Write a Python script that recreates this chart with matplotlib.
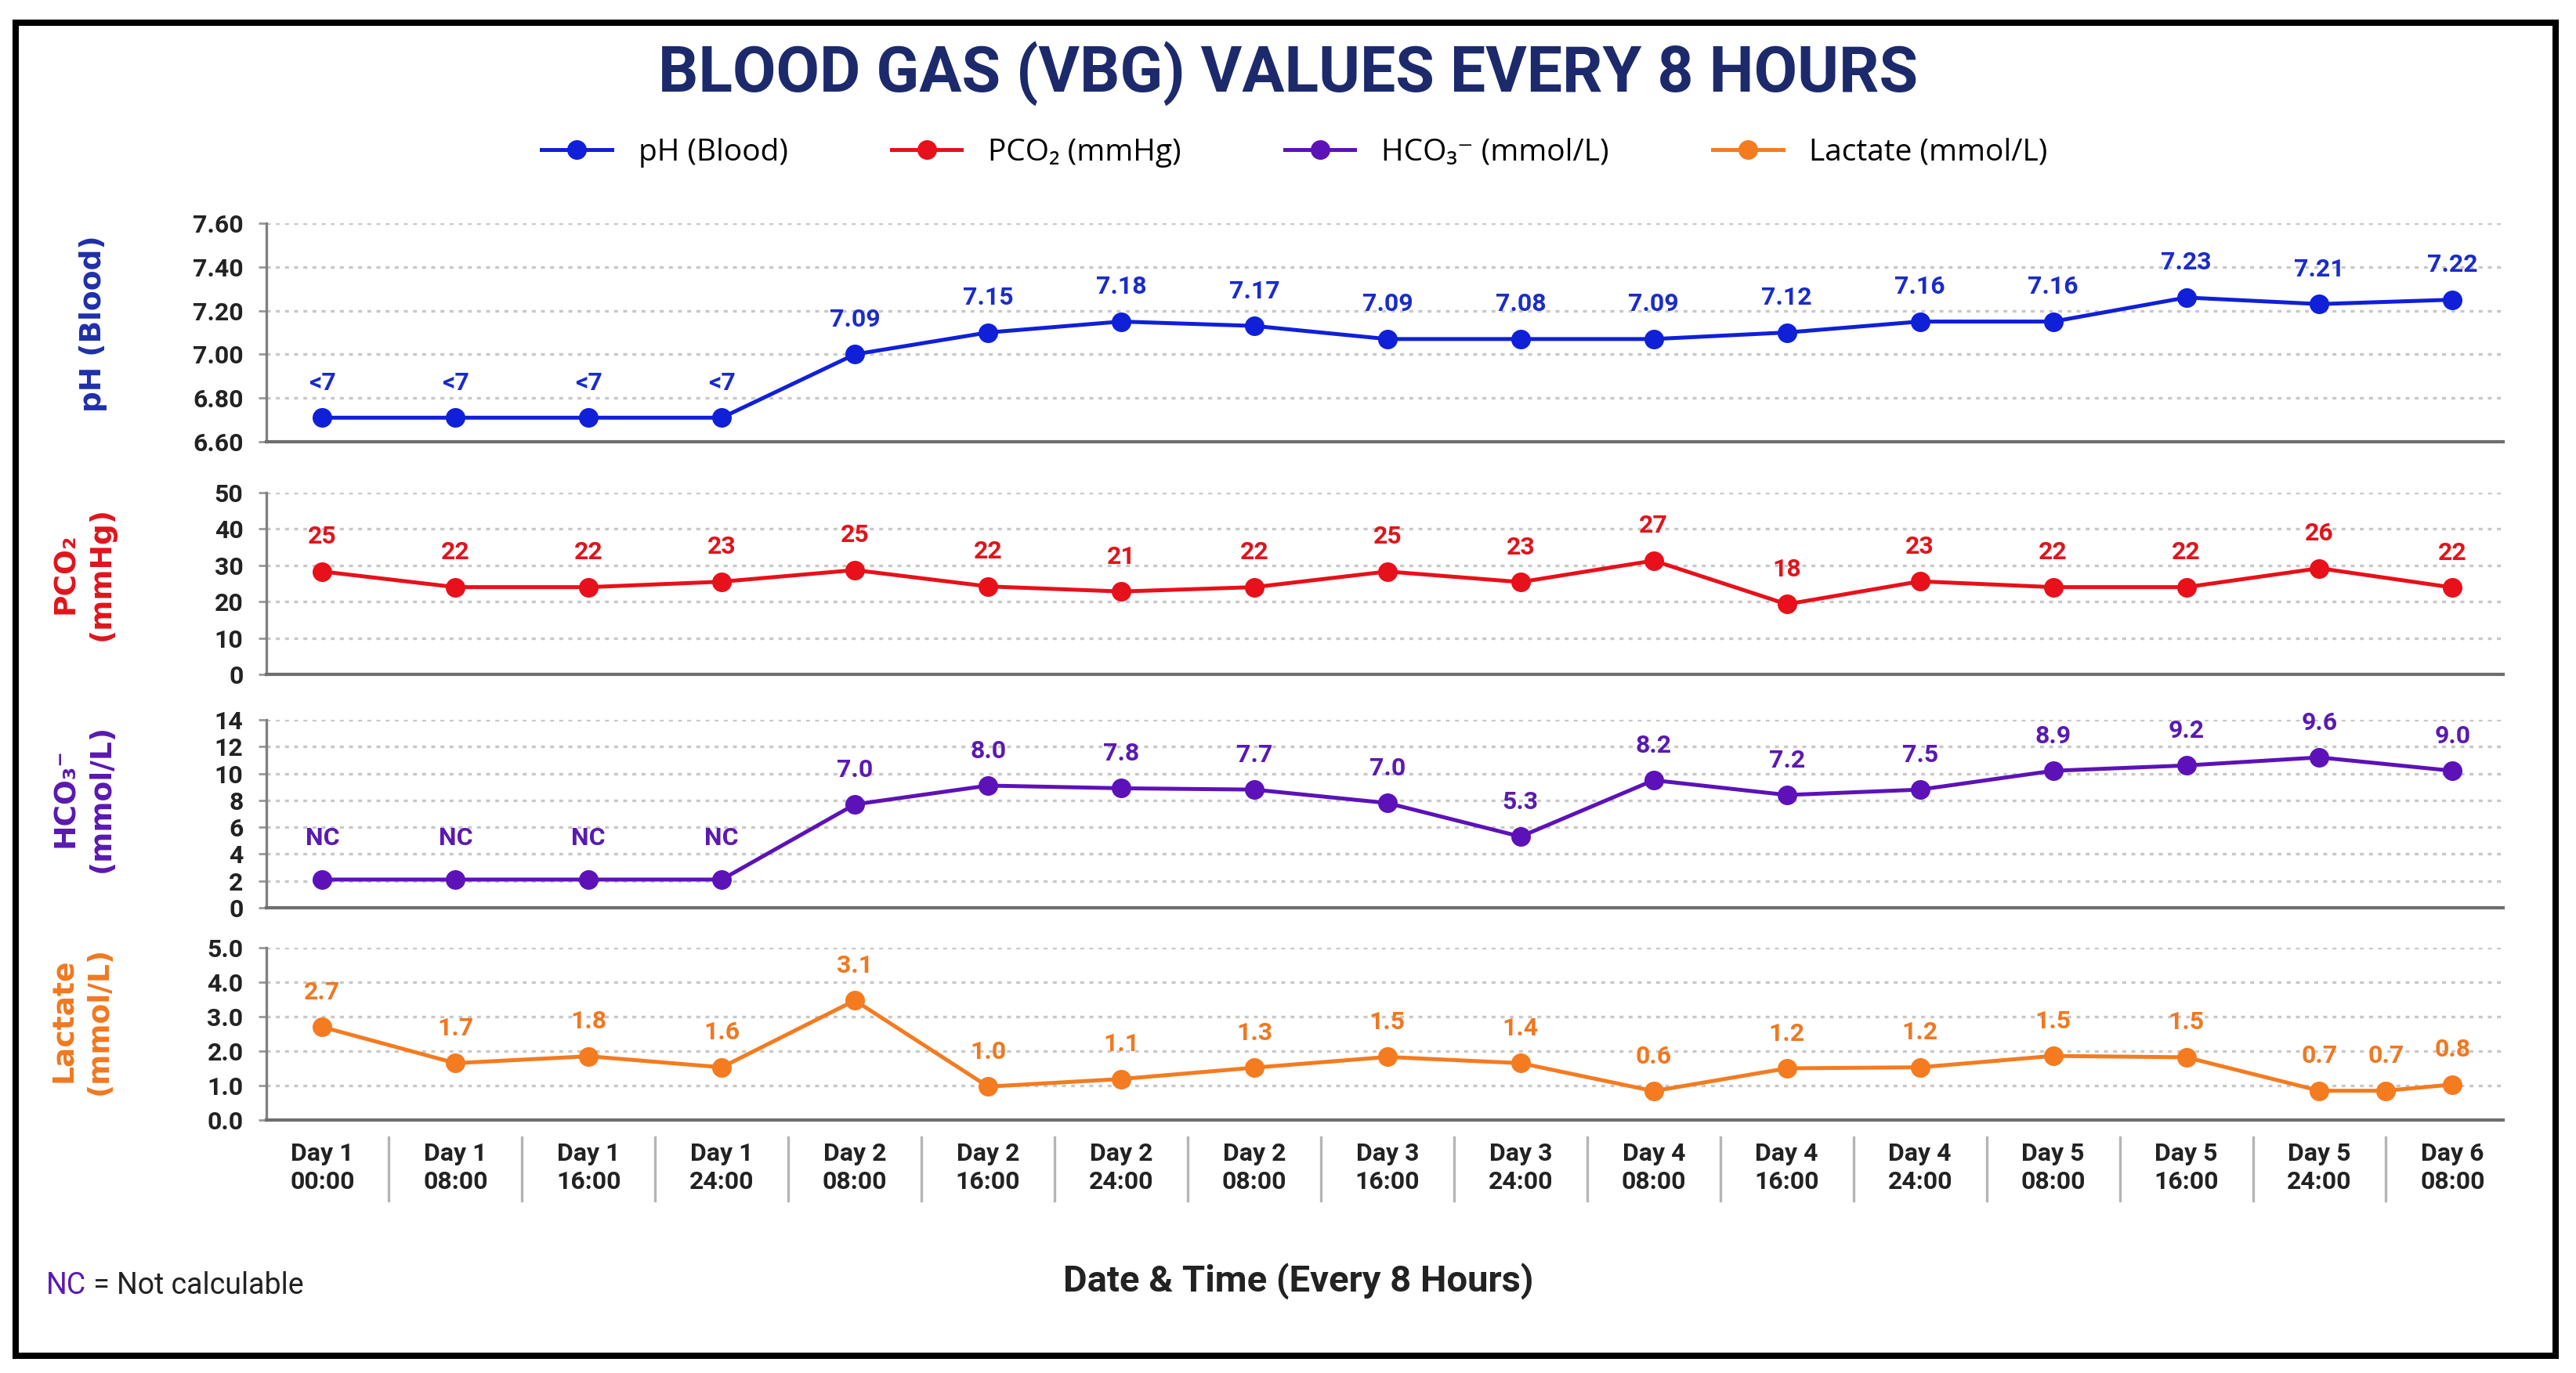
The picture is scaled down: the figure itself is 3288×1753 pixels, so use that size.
import matplotlib
matplotlib.use("Agg")
import matplotlib.pyplot as plt
import matplotlib.patches as patches
import matplotlib.transforms as mtransforms
from matplotlib.ticker import FormatStrFormatter

plt.rcParams["font.family"] = ["Roboto", "DejaVu Sans"]

# ── データ──
x_labels = ["Day 1\n00:00", "Day 1\n08:00", "Day 1\n16:00", "Day 1\n24:00",
            "Day 2\n08:00", "Day 2\n16:00", "Day 2\n24:00", "Day 2\n08:00",
            "Day 3\n16:00", "Day 3\n24:00", "Day 4\n08:00", "Day 4\n16:00",
            "Day 4\n24:00", "Day 5\n08:00", "Day 5\n16:00", "Day 5\n24:00",
            "Day 6\n08:00"]
x_main = list(range(17))

ph_vals = [6.71, 6.71, 6.71, 6.71, 7.00, 7.10, 7.15, 7.13, 7.07, 7.07, 7.07,
           7.10, 7.15, 7.15, 7.26, 7.23, 7.25]
ph_text = ["<7", "<7", "<7", "<7", "7.09", "7.15", "7.18", "7.17", "7.09",
           "7.08", "7.09", "7.12", "7.16", "7.16", "7.23", "7.21", "7.22"]

pco2_vals = [28.3, 24.0, 24.0, 25.5, 28.7, 24.2, 22.8, 24.0, 28.3, 25.4, 31.3,
             19.3, 25.6, 24.0, 24.0, 29.2, 23.9]
pco2_text = ["25", "22", "22", "23", "25", "22", "21", "22", "25", "23", "27",
             "18", "23", "22", "22", "26", "22"]

hco3_vals = [2.1, 2.1, 2.1, 2.1, 7.7, 9.1, 8.9, 8.8, 7.8, 5.3, 9.5, 8.4, 8.8,
             10.2, 10.6, 11.2, 10.2]
hco3_text = ["NC", "NC", "NC", "NC", "7.0", "8.0", "7.8", "7.7", "7.0", "5.3",
             "8.2", "7.2", "7.5", "8.9", "9.2", "9.6", "9.0"]

lactate_x = [0, 1, 2, 3, 4, 5, 6, 7, 8, 9, 10, 11, 12, 13, 14, 15, 15.5, 16]
lactate_vals = [2.70, 1.65, 1.85, 1.53, 3.47, 0.97, 1.19, 1.52, 1.83, 1.65,
                0.84, 1.50, 1.53, 1.86, 1.82, 0.85, 0.85, 1.03]
lactate_text = ["2.7", "1.7", "1.8", "1.6", "3.1", "1.0", "1.1", "1.3", "1.5",
                "1.4", "0.6", "1.2", "1.2", "1.5", "1.5", "0.7", "0.7", "0.8"]

# ── 図の寸法 ──
W, H, DPI = 3288, 1753, 200
fig = plt.figure(figsize=(W / DPI, H / DPI), dpi=DPI, facecolor="white")

LEFT, RIGHT = 340, 3195


def add_panel(top, bottom):
    return fig.add_axes([LEFT / W, 1 - bottom / H, (RIGHT - LEFT) / W, (bottom - top) / H])


panels = [
    # (top, bottom, x, y, texts, line color, text color, ylim, ticks, fmt, legend label)
    (285, 564, x_main, ph_vals, ph_text, "#1020d8", "#1a2cc8", (6.6, 7.6),
     [6.6, 6.8, 7.0, 7.2, 7.4, 7.6], "%.2f", "pH (Blood)"),
    (629, 861, x_main, pco2_vals, pco2_text, "#e8101a", "#e0141c", (0, 50),
     [0, 10, 20, 30, 40, 50], "%d", "PCO₂ (mmHg)"),
    (919, 1159, x_main, hco3_vals, hco3_text, "#5c12b8", "#5a1ab0", (0, 14),
     [0, 2, 4, 6, 8, 10, 12, 14], "%d", "HCO₃⁻ (mmol/L)"),
    (1210, 1430, lactate_x, lactate_vals, lactate_text, "#f47b20", "#f07820", (0, 5),
     [0, 1, 2, 3, 4, 5], "%.1f", "Lactate (mmol/L)"),
]

handles = []
axes = []
for top, bottom, xs, ys, texts, lc, tc, ylim, ticks, fmt, lab in panels:
    ax = add_panel(top, bottom)
    axes.append(ax)
    line, = ax.plot(xs, ys, color=lc, lw=1.8, marker="o", ms=8, label=lab, zorder=3)
    handles.append(line)
    for xi, yi, t in zip(xs, ys, texts):
        off = 19 if t == "NC" else 16
        ax.annotate(t, (xi, yi), xytext=(0, off), textcoords="offset points",
                    ha="center", va="center", fontsize=11.5, fontweight="bold", color=tc)

    ax.set_xlim(-0.42, 16.38)
    ax.set_ylim(*ylim)
    ax.set_yticks(ticks)
    ax.yaxis.set_major_formatter(FormatStrFormatter(fmt))
    ax.grid(axis="y", color="#c8c8c8", linestyle=(0, (1.5, 2)), lw=1.2)
    ax.set_axisbelow(True)
    for s in ["top", "right"]:
        ax.spines[s].set_visible(False)
    ax.spines["left"].set_color("#808080")
    ax.spines["left"].set_linewidth(1.2)
    ax.spines["bottom"].set_color("#6e6e6e")
    ax.spines["bottom"].set_linewidth(1.5)
    ax.tick_params(axis="y", length=3.6, width=1.0, color="#999999", pad=7,
                   labelsize=11.5, labelcolor="#222222")
    for t in ax.get_yticklabels():
        t.set_fontweight("bold")
    ax.set_xticks(x_main)
    ax.tick_params(axis="x", length=0, labelbottom=False)

# 一番下のパネルに日時ラベルと区切り線
ax_b = axes[-1]
ax_b.tick_params(axis="x", labelbottom=True, pad=10)
ax_b.set_xticklabels(x_labels, fontsize=11.5, fontweight="bold", color="#222222",
                     linespacing=1.25)
trans = mtransforms.blended_transform_factory(ax_b.transData, ax_b.transAxes)
for i in range(16):
    ax_b.plot([i + 0.5, i + 0.5], [-0.10, -0.47], transform=trans, color="#b5b5b5",
              lw=1.2, clip_on=False)

# ── 縦軸ラベル ──
ylabels = [
    ("pH (Blood)", 119, 413, "#1f2fa8"),
    ("PCO₂\n(mmHg)", 107, 732, "#e0141c"),
    ("HCO₃⁻\n(mmol/L)", 107, 1019, "#5a18b0"),
    ("Lactate\n(mmol/L)", 104, 1303, "#f07820"),
]
for txt, px, py, col in ylabels:
    fig.text(px / W, 1 - py / H, txt, rotation=90, ha="center", va="center",
             fontsize=13.5, fontweight="bold", color=col, family=["DejaVu Sans"],
             linespacing=1.35, multialignment="center")

# ── タイトル・凡例・注記 ──
fig.text(0.5, 1 - 94 / H, "BLOOD GAS (VBG) VALUES EVERY 8 HOURS", ha="center",
         va="center", fontsize=29, fontweight="bold", color="#1c2a6c")

fig.legend(handles, [h.get_label() for h in handles], loc="center",
           bbox_to_anchor=(0.5026, 1 - 195 / H), ncol=4, frameon=False,
           handlelength=2.3, handletextpad=0.87, columnspacing=3.4,
           prop={"family": ["Open Sans", "DejaVu Sans"], "size": 14})

fig.text(1657 / W, 1 - 1636 / H, "Date & Time (Every 8 Hours)", ha="center",
         va="center", fontsize=17, fontweight="bold", color="#222222")

nc = fig.text(59 / W, 1 - 1642 / H, "NC", ha="left", va="center", fontsize=13.5,
              color="#5a18b0")
ax_b.annotate(" = Not calculable", xy=(1, 0.5), xycoords=nc, ha="left", va="center",
              fontsize=13.5, color="#222222", annotation_clip=False)

# 外枠
fig.add_artist(patches.Rectangle((20 / W, 1 - 1731 / H), (3262 - 20) / W, (1731 - 29) / H,
                                 transform=fig.transFigure, fill=False, lw=2.9,
                                 edgecolor="black"))

fig.savefig("out.png", dpi=DPI)
